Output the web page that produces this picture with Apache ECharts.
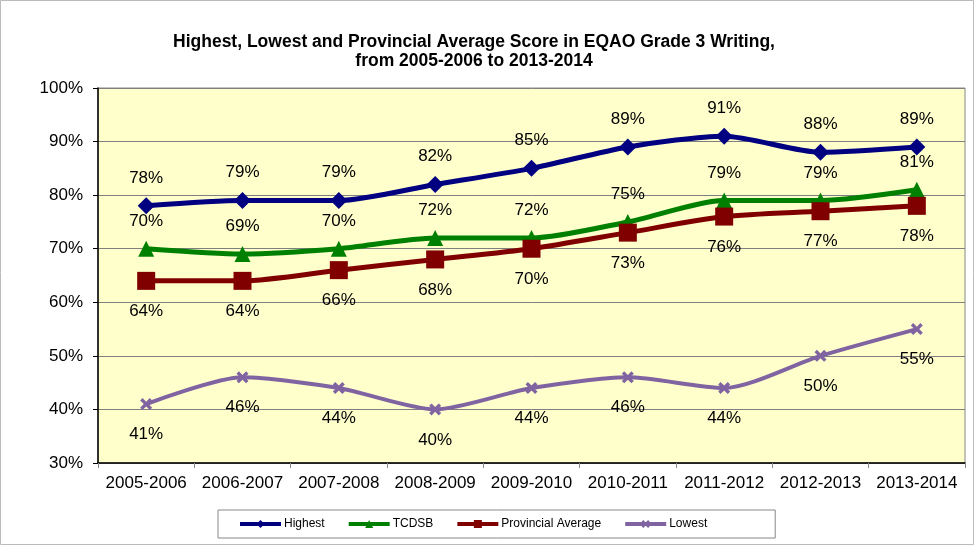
<!DOCTYPE html>
<html>
<head>
<meta charset="utf-8">
<script src="https://cdn.jsdelivr.net/npm/echarts@6/dist/echarts.min.js"></script>
<style>
html,body{margin:0;padding:0;background:#fff;}
#c{width:975px;height:546px;}
</style>
</head>
<body>
<div id="c"></div>
<script>
var categories = ['2005-2006','2006-2007','2007-2008','2008-2009','2009-2010','2010-2011','2011-2012','2012-2013','2013-2014'];
var highest = [78,79,79,82,85,89,91,88,89];
var tcdsb = [70,69,70,72,72,75,79,79,81];
var provincial = [64,64,66,68,70,73,76,77,78];
var lowest = [41,46,44,40,44,46,44,50,55];
var yTicks = [30,40,50,60,70,80,90,100];

var FONT = '"Liberation Sans", Arial, sans-serif';
var xPath = 'path://M2,0 L5,3 L8,0 L10,2 L7,5 L10,8 L8,10 L5,7 L2,10 L0,8 L3,5 L0,2 Z';

function mk(name, data, color, symbol, size, pos, width, dist) {
  return {
    name: name, type: 'line', data: data, smooth: 0.25,
    symbol: symbol, symbolSize: size,
    lineStyle: {color: color, width: width},
    itemStyle: {color: color},
    label: {show: true, position: pos, distance: dist, formatter: '{c}%',
            color: '#000', fontSize: 17, fontFamily: FONT},
    emphasis: {disabled: true}, animation: false
  };
}

var chart = echarts.init(document.getElementById('c'));
chart.setOption({
  animation: false,
  backgroundColor: '#fff',
  title: {
    text: 'Highest, Lowest and Provincial Average Score in EQAO Grade 3 Writing,\nfrom 2005-2006 to 2013-2014',
    left: 469, top: 28, textAlign: 'center',
    textStyle: {fontFamily: FONT, fontSize: 17.5, fontWeight: 'bold', color: '#000', lineHeight: 19}
  },
  graphic: [{type: 'rect', shape: {x: 0.5, y: 0.5, width: 973, height: 544},
             style: {fill: 'none', stroke: '#bbbbbb', lineWidth: 1}, silent: true}],
  grid: {left: 98, right: 10, top: 88, bottom: 83, show: true,
         backgroundColor: '#FFFFCC', borderColor: '#888888', borderWidth: 1},
  xAxis: {
    type: 'category', data: categories, boundaryGap: true,
    axisLine: {lineStyle: {color: '#000', width: 1.5}},
    axisTick: {show: true, length: 5, lineStyle: {color: '#888'}},
    axisLabel: {color: '#000', fontSize: 17, fontFamily: FONT, margin: 12, interval: 0}
  },
  yAxis: {
    type: 'value', min: 30, max: 100, interval: 10,
    axisLine: {show: true, lineStyle: {color: '#000', width: 1.5}},
    axisTick: {show: true, length: 5, lineStyle: {color: '#000'}},
    splitLine: {lineStyle: {color: '#808080', width: 1}},
    axisLabel: {color: '#000', fontSize: 17, fontFamily: FONT, margin: 15,
                formatter: function(v){ return yTicks.indexOf(v) >= 0 ? v + '%' : ''; }}
  },
  legend: {
    bottom: 8, left: 218,
    borderColor: '#888', borderWidth: 1, padding: [8, 68, 8, 20],
    itemGap: 22, itemWidth: 41, itemHeight: 10,
    lineStyle: {width: 4},
    textStyle: {fontFamily: FONT, fontSize: 12, color: '#000', padding: [0,0,0,-2]},
    data: ['Highest','TCDSB','Provincial Average','Lowest']
  },
  series: [
    mk('Highest', highest, '#000080', 'diamond', 17, 'top', 5, 11),
    mk('TCDSB', tcdsb, '#008000', 'triangle', 16, 'top', 5, 11),
    mk('Provincial Average', provincial, '#800000', 'rect', 18, 'bottom', 5, 13),
    mk('Lowest', lowest, '#8064A2', xPath, 12, 'bottom', 4, 16)
  ]
});
</script>
</body>
</html>
